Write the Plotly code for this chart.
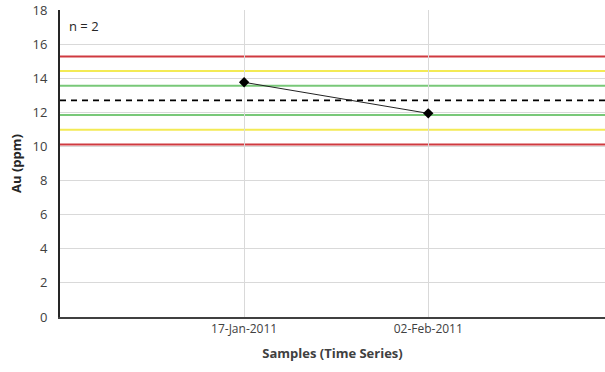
import plotly.graph_objects as go

dates = ["17-Jan-2011", "02-Feb-2011"]
au_values = [13.76, 11.94]
center_value = 12.7
sd_value = 0.86
sd_multiples = [1, 2, 3]
sd_colors = ["#78c878", "#f3ea55", "#cf3a40"]
y_ticks = [0, 2, 4, 6, 8, 10, 12, 14, 16, 18]
n_label = "n = 2"

fig = go.Figure()

fig.add_trace(go.Scatter(
    x=dates, y=au_values, mode="lines+markers",
    line=dict(color="#222222", width=1),
    marker=dict(symbol="diamond", size=8, color="#000000"),
    showlegend=False,
))

shapes = []
for k, col in zip(sd_multiples, sd_colors):
    for sign in (1, -1):
        yv = center_value + sign * k * sd_value
        shapes.append(dict(type="line", xref="paper", x0=0, x1=1, yref="y",
                           y0=yv, y1=yv, line=dict(color=col, width=2), layer="below"))
shapes.append(dict(type="line", xref="paper", x0=0, x1=1, yref="y",
                   y0=center_value, y1=center_value,
                   line=dict(color="#000000", width=1.6, dash="6px,5px"), layer="below"))

fig.update_layout(
    width=605, height=372,
    margin=dict(l=60, r=0, t=10, b=55, autoexpand=False),
    paper_bgcolor="white", plot_bgcolor="white",
    font=dict(family="Open Sans, Arial, sans-serif", size=12, color="#404040"),
    shapes=shapes,
    xaxis=dict(
        type="category", categoryorder="array", categoryarray=dates,
        range=[-1, 1.96], automargin=False,
        showgrid=True, gridcolor="#d9d9d9", gridwidth=1,
        showline=True, linecolor="#404040", linewidth=2,
        ticks="", tickfont=dict(size=12, color="#404040"),
        title=dict(text="<b>Samples (Time Series)</b>", font=dict(size=13, color="#404040"), standoff=12),
        zeroline=False,
    ),
    yaxis=dict(
        range=[0, 18], tickvals=y_ticks, automargin=False,
        showgrid=True, gridcolor="#d9d9d9", gridwidth=1,
        showline=True, linecolor="#262626", linewidth=2,
        ticks="", ticklabelstandoff=8, tickfont=dict(size=13, color="#404040"),
        title=dict(text="<b>Au (ppm)</b>", font=dict(size=13, color="#262626"), standoff=8),
        zeroline=False,
    ),
    annotations=[dict(text=n_label, xref="paper", yref="paper", x=0.012, y=0.985,
                      xanchor="left", yanchor="top", showarrow=False,
                      font=dict(size=13, color="#262626"))],
)

fig.write_html("out.html", config={"displayModeBar": False},
               post_script="document.body.style.margin='0';document.body.style.overflow='hidden';")
